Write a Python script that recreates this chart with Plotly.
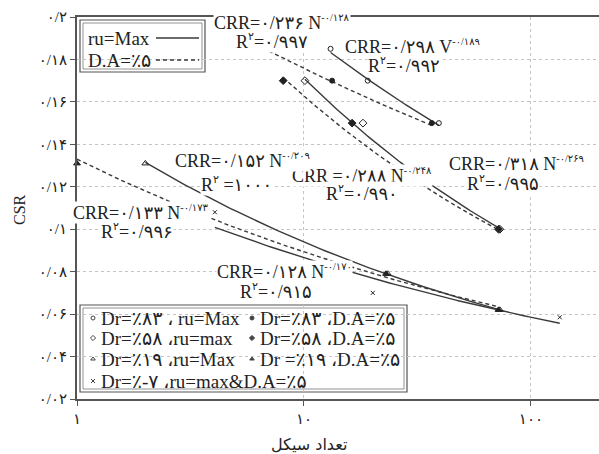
import numpy as np
import plotly.graph_objects as go

# Number of cycles (N) and cyclic stress ratio for each test group
n_dr83_ru = [13.1, 19.1, 39.3]
csr_dr83_ru = [0.185, 0.170, 0.150]
n_dr83_da = [7.0, 13.3, 36.6]
csr_dr83_da = [0.185, 0.170, 0.150]
n_dr58_ru = [10.1, 18.2, 73.0]
csr_dr58_ru = [0.170, 0.150, 0.100]
n_dr58_da = [8.1, 16.3, 72.0]
csr_dr58_da = [0.170, 0.150, 0.100]
n_dr19_ru = [2.0, 23.4, 73.0]
csr_dr19_ru = [0.131, 0.079, 0.062]
n_dr19_da = [1.0, 23.0, 72.0]
csr_dr19_da = [0.131, 0.079, 0.062]
n_drm7 = [4.05, 20.1, 134.0]
csr_drm7 = [0.108, 0.070, 0.0585]

# Power-law trendlines CRR = a * N^b and their R² texts
fit_a = [0.298, 0.236, 0.318, 0.288, 0.152, 0.133, 0.128]
fit_b = [-0.189, -0.128, -0.269, -0.248, -0.209, -0.173, -0.170]
fit_var = ["V", "N", "N", "N", "N", "N", "N"]
fit_r2 = ["۰/۹۹۲", "۰/۹۹۷", "۰/۹۹۵", "۰/۹۹۰", "۱۰۰۰", "۰/۹۹۶", "۰/۹۱۵"]

# Axis tick labels
x_ticks = [1, 10, 100]
x_ticktext = ["۱", "۱۰", "۱۰۰"]
y_ticks = [0.02, 0.04, 0.06, 0.08, 0.10, 0.12, 0.14, 0.16, 0.18, 0.20]
y_ticktext = ["۰/۰۲", "۰/۰۴", "۰/۰۶", "۰/۰۸", "۰/۱", "۰/۱۲", "۰/۱۴", "۰/۱۶", "۰/۱۸", "۰/۲"]

series_n = [n_dr83_ru, n_dr83_da, n_dr58_ru, n_dr58_da, n_dr19_ru, n_dr19_da, n_drm7]
series_csr = [csr_dr83_ru, csr_dr83_da, csr_dr58_ru, csr_dr58_da, csr_dr19_ru, csr_dr19_da, csr_drm7]
series_symbol = ["circle-open", "circle", "diamond-open", "diamond",
                 "triangle-up-open", "triangle-up", "x-thin-open"]
series_size = [5, 5, 6, 6, 6, 6, 4]
series_dash = ["solid", "dash", "solid", "dash", "solid", "dash", "solid"]

# label placement (pixel centres inside the 599x454 page)
eq_pos = [(412, 46), (282, 23), (516, 163), (362, 175), (242, 161), (141, 212), (284, 271)]
r2_pos = [(404, 65), (272, 41), (503, 183), (362, 193), (236, 184), (137, 231), (276, 291)]
eq_sep = ["=", "=", "=", " =", "=", "=", "="]
r2_sep = ["=", "=", "=", "=", " =", "=", "="]

W, H = 599, 454
L, R, T, B = 77, 0, 17, 55
PX0, PX1, PY0, PY1 = L, W - R, H - B, T

FONT = "Liberation Serif, DejaVu Serif, DejaVu Sans, serif"
INK = "#222222"
LINE = "#3a3a3a"

FA = str.maketrans("0123456789.", "۰۱۲۳۴۵۶۷۸۹/")


def fa(s):
    return s.translate(FA)


def px2paper(x, y):
    return (x - PX0) / (PX1 - PX0), (PY0 - y) / (PY0 - PY1)


def small_sup(s, size=10):
    return f"<sup><span style='font-size:{size}px'>{s}</span></sup>"


fig = go.Figure()

for i in range(7):
    nmin, nmax = min(series_n[i]), max(series_n[i])
    nn = np.geomspace(nmin, nmax, 80)
    fig.add_trace(go.Scatter(
        x=nn, y=fit_a[i] * nn ** fit_b[i], mode="lines",
        line=dict(color=LINE, width=1.4, dash="4px,3px" if series_dash[i] == "dash" else "solid"),
        hoverinfo="skip"))

for i in range(7):
    fig.add_trace(go.Scatter(
        x=series_n[i], y=series_csr[i], mode="markers",
        marker=dict(symbol=series_symbol[i], size=series_size[i], color="#222222",
                    line=dict(color="#222222", width=1)),
        cliponaxis=False))

annotations = []
for i in range(7):
    eq = ("CRR" + eq_sep[i] + fa(f"{fit_a[i]:.3f}") + " " + fit_var[i]
          + small_sup("-" + fa(f"{-fit_b[i]:.3f}")))
    r2 = "R" + small_sup("۲", 11) + r2_sep[i] + fit_r2[i]
    for txt, (cx, cy) in ((eq, eq_pos[i]), (r2, r2_pos[i])):
        px, py = px2paper(cx, cy)
        annotations.append(dict(
            x=px, y=py, xref="paper", yref="paper", text=txt, showarrow=False,
            xanchor="center", yanchor="middle", bgcolor="white", borderpad=0,
            font=dict(family=FONT, size=18, color=INK)))

# legend boxes (white panels with a double frame)
shapes = []
for (x0, y0, x1, y1) in [(80, 20, 205, 72), (80, 305, 407, 392)]:
    a0, b0 = px2paper(x0, y1)
    a1, b1 = px2paper(x1, y0)
    shapes.append(dict(type="rect", xref="paper", yref="paper", x0=a0, y0=b0, x1=a1, y1=b1,
                       fillcolor="white", line=dict(color="#555", width=1.2), layer="between"))
    c0, d0 = px2paper(x0 + 3, y1 - 3)
    c1, d1 = px2paper(x1 - 3, y0 + 3)
    shapes.append(dict(type="rect", xref="paper", yref="paper", x0=c0, y0=d0, x1=c1, y1=d1,
                       line=dict(color="#777", width=0.8), layer="between"))

# line-style key
key_rows = [("ru=Max", 38, "solid"), ("D.A=٪۵", 60, "4px,3px")]
for label, ky, dash in key_rows:
    px, py = px2paper(86, ky)
    annotations.append(dict(x=px, y=py, xref="paper", yref="paper", text=label, showarrow=False,
                            xanchor="left", yanchor="middle",
                            font=dict(family=FONT, size=19, color=INK)))
    fig.add_trace(go.Scatter(x=[156, 199], y=[ky, ky], xaxis="x2", yaxis="y2", mode="lines",
                             line=dict(color=LINE, width=1.4, dash=dash), hoverinfo="skip"))

# marker key
marker_labels = ["Dr=٪۸۳ ، ru=Max", "Dr=٪۸۳ ،D.A=٪۵", "Dr=٪۵۸ ،ru=max", "Dr=٪۵۸ ،D.A=٪۵",
                 "Dr=٪۱۹ ،ru=Max", "Dr =٪۱۹ ،D.A=٪۵", "Dr=٪-۷ ،ru=max&D.A=٪۵"]
marker_row_y = [318, 318, 338, 338, 359, 359, 381]
marker_col_x = [93, 252, 93, 252, 93, 252, 93]
for i, label in enumerate(marker_labels):
    mx, my = marker_col_x[i], marker_row_y[i]
    fig.add_trace(go.Scatter(x=[mx], y=[my], xaxis="x2", yaxis="y2", mode="markers",
                             marker=dict(symbol=series_symbol[i], size=4,
                                         color="#444", line=dict(color="#444", width=1)),
                             hoverinfo="skip"))
    px, py = px2paper(mx + 6, my)
    annotations.append(dict(x=px, y=py, xref="paper", yref="paper", text=label, showarrow=False,
                            xanchor="left", yanchor="middle",
                            font=dict(family=FONT, size=19, color=INK)))

# axis titles
tx, ty = px2paper(309, 444)
annotations.append(dict(x=tx, y=ty, xref="paper", yref="paper", text="تعداد سیکل",
                        showarrow=False, xanchor="center", yanchor="middle",
                        font=dict(family="DejaVu Sans, sans-serif", size=16, color=INK)))
tx, ty = px2paper(20, 210)
annotations.append(dict(x=tx, y=ty, xref="paper", yref="paper", text="CSR", textangle=-90,
                        showarrow=False, xanchor="center", yanchor="middle",
                        font=dict(family=FONT, size=16, color=INK)))

fig.update_layout(
    width=W, height=H,
    margin=dict(l=L, r=R, t=T, b=B),
    paper_bgcolor="white", plot_bgcolor="white",
    showlegend=False,
    xaxis=dict(type="log", range=[0, 2.3], tickvals=x_ticks, ticktext=x_ticktext,
               showgrid=True, gridcolor="#c4c4c4", griddash="dot", gridwidth=1,
               showline=True, linecolor="#555", linewidth=2, mirror=True,
               ticks="outside", ticklen=5, tickcolor="#555",
               tickfont=dict(family=FONT, size=15, color=INK), zeroline=False),
    yaxis=dict(range=[0.02, 0.2], tickvals=y_ticks, ticktext=y_ticktext,
               showgrid=True, gridcolor="#c4c4c4", griddash="dot", gridwidth=1,
               showline=True, linecolor="#555", linewidth=2,
               ticks="outside", ticklen=5, tickcolor="#555",
               tickfont=dict(family=FONT, size=15, color=INK), zeroline=False),
    xaxis2=dict(overlaying="x", range=[PX0, PX1], visible=False),
    yaxis2=dict(overlaying="y", range=[PY0, PY1], visible=False),
    shapes=shapes,
    annotations=annotations,
)

fig.write_html("out.html")
